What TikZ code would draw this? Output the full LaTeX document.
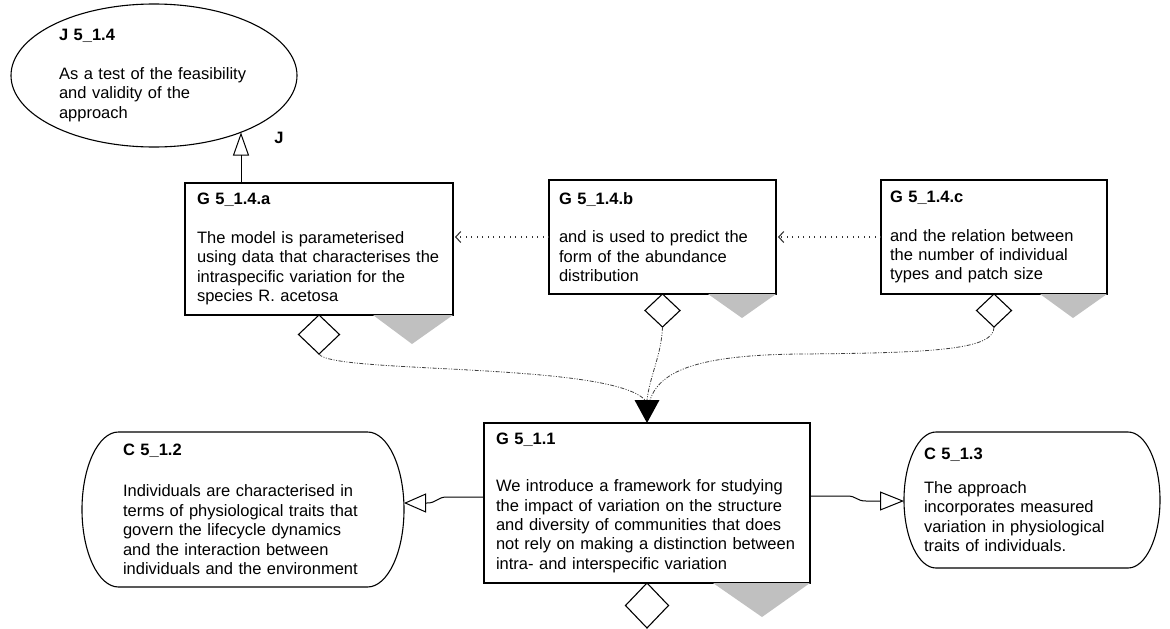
\documentclass[tikz,border=0pt]{standalone}
\usepackage{fontspec}
\setmainfont{Liberation Sans}
\usetikzlibrary{arrows.meta,shapes.geometric,calc}
\definecolor{tricol}{HTML}{C0C0C0}
\newcommand{\dfont}{\fontsize{16.5pt}{19.4pt}\selectfont}
\begin{document}
\begin{tikzpicture}[x=1pt,y=-1pt,
  every node/.style={font=\dfont},
  gbox/.style={draw, line width=1.1pt, rectangle, inner sep=0pt, outer sep=0pt, align=left},
  cbox/.style={inner sep=0pt, outer sep=0pt, align=left},
  dia/.style={draw, diamond, line width=1.1pt, inner sep=0pt, outer sep=0pt, anchor=north, fill=white},
  conn/.style={line width=1pt},
  dotline/.style={line width=1.1pt, black!80, dash pattern=on 1pt off 4.5pt},
  ddot/.style={line width=0.8pt, black!75, dash pattern=on 4pt off 1.5pt on 1pt off 1.5pt on 1pt off 1.5pt},
  greytri/.style={fill=tricol, draw=none},
]
\fill[white] (0,0) rectangle (1170,629);
\useasboundingbox (0,0) rectangle (1170,629);

% justification ellipse
\node[draw, ellipse, line width=1.1pt, minimum width=286pt, minimum height=143pt,
      inner sep=0pt, text width=190pt, align=left] (j14) at (154,75.5)
  {\textbf{J 5\_1.4}\\[19.6pt]As a test of the feasibility\\and validity of the\\approach};
\node[font=\dfont\bfseries] (jl) at (279,138) {J};

% goal boxes
\node[gbox, minimum width=268pt, minimum height=132pt, text width=244pt] (ga) at (319,249)
  {\textbf{G 5\_1.4.a}\\[19.4pt]The model is parameterised\\using data that characterises the\\intraspecific variation for the\\species R. acetosa};
\node[gbox, minimum width=227pt, minimum height=114pt, text width=207pt] (gb) at (662.5,237)
  {\textbf{G 5\_1.4.b}\\[19.4pt]and is used to predict the\\form of the abundance\\distribution};
\node[gbox, minimum width=226pt, minimum height=114pt, text width=208pt] (gc) at (994,237)
  {\textbf{G 5\_1.4.c}\\[19.4pt]and the relation between\\the number of individual\\types and patch size};
\node[gbox, minimum width=326pt, minimum height=160pt, text width=302pt] (g11) at (647,503)
  {\textbf{G 5\_1.1}\\[27.6pt]We introduce a framework for studying\\the impact of variation on the structure\\and diversity of communities that does\\not rely on making a distinction between\\intra- and interspecific variation};

% context nodes
\node[cbox, minimum width=322pt, minimum height=155pt, text width=240pt] (c12) at (243,509.5)
  {\textbf{C 5\_1.2}\\[21.6pt]Individuals are characterised in\\terms of physiological traits that\\govern the lifecycle dynamics\\and the interaction between\\individuals and the environment};
\draw[line width=1.1pt] ($(c12.north west)+(36.5,0)$) -- ($(c12.north east)+(-36.5,0)$)
  arc[start angle=90, end angle=-90, x radius=36.5pt, y radius=77.5pt]
  -- ($(c12.south west)+(36.5,0)$)
  arc[start angle=270, end angle=90, x radius=36.5pt, y radius=77.5pt] -- cycle;

\node[cbox, minimum width=256pt, minimum height=136pt, text width=216pt] (c13) at (1032,500)
  {\textbf{C 5\_1.3}\\[14pt]The approach\\incorporates measured\\variation in physiological\\traits of individuals.};
\draw[line width=1.1pt] ($(c13.north west)+(32,0)$) -- ($(c13.north east)+(-32,0)$)
  arc[start angle=90, end angle=-90, x radius=32pt, y radius=68pt]
  -- ($(c13.south west)+(32,0)$)
  arc[start angle=270, end angle=90, x radius=32pt, y radius=68pt] -- cycle;

% grey triangles
\path[greytri] ($(ga.south east)+(-80,0)$) -- (ga.south east) -- ($(ga.south east)+(-41,29)$) -- cycle;
\path[greytri] ($(gb.south east)+(-68,0)$) -- (gb.south east) -- ($(gb.south east)+(-34,24)$) -- cycle;
\path[greytri] ($(gc.south east)+(-67,0)$) -- (gc.south east) -- ($(gc.south east)+(-34,24)$) -- cycle;
\path[greytri] ($(g11.south east)+(-97,0)$) -- (g11.south east) -- ($(g11.south east)+(-48,34)$) -- cycle;

% diamonds
\node[dia, minimum width=41pt, minimum height=39pt] (da) at (ga.south) {};
\node[dia, minimum width=35pt, minimum height=33pt] (db) at (gb.south) {};
\node[dia, minimum width=35pt, minimum height=33pt] (dc) at (gc.south) {};
\node[dia, minimum width=43pt, minimum height=45pt] (d11) at (g11.south) {};

% J link
\coordinate (jb) at ($(ga.north west)+(56,0)$);
\draw[conn, -{Triangle[open, length=23pt, width=16pt]}] (jb) -- (jb |- j14.-33.1);

% dotted links
\draw[dotline, -{Straight Barb[length=5pt, width=11pt]}, shorten >=2pt] (gb.west) -- (gb.west -| ga.east);
\draw[dotline, -{Straight Barb[length=5pt, width=11pt]}, shorten >=2pt] (gc.west) -- (gc.west -| gb.east);

% solved-by arrowhead and curves
\coordinate (ah) at ($(g11.north)+(0,-23)$);
\fill[black] ($(ah)+(-12.5,0)$) -- (g11.north) -- ($(ah)+(12.5,0)$) -- cycle;
\draw[ddot] (da.south) .. controls ($(da.south)+(12,20)$) and ($(ah)+(-37,-38)$) .. ($(ah)+(-2,0)$);
\draw[ddot] (db.south) .. controls ($(db.south)+(-1,28)$) and ($(ah)+(3,-25)$) .. (ah);
\coordinate (cm) at ($(ah)+(153,-46)$);
\draw[ddot] (dc.south) .. controls ($(dc.south)+(0,22)$) and ($(cm)+(140,-1)$) .. (cm)
  .. controls ($(cm)+(-100,1)$) and ($(ah)+(13,-30)$) .. ($(ah)+(3,0)$);

% context links
\coordinate (l1) at ($(g11.west)+(-37,-6)$);
\coordinate (l2) at ($(c12.east)+(23,-6.5)$);
\draw[conn, -{Triangle[open, length=22pt, width=19pt]}] ($(g11.west)+(0,-6)$) -- (l1)
  .. controls ($(l1)+(-10,0)$) and ($(l2)+(10,0)$) .. (l2) -- ($(c12.east)+(0,-6.5)$);
\coordinate (r1) at ($(g11.east)+(37,-7)$);
\coordinate (r2) at ($(c13.west)+(-38,1)$);
\draw[conn, -{Triangle[open, length=24pt, width=19pt]}] ($(g11.east)+(0,-7)$) -- (r1)
  .. controls ($(r1)+(10,0)$) and ($(r2)+(-10,0)$) .. (r2) -- ($(c13.west)+(0,1)$);
\end{tikzpicture}
\end{document}
